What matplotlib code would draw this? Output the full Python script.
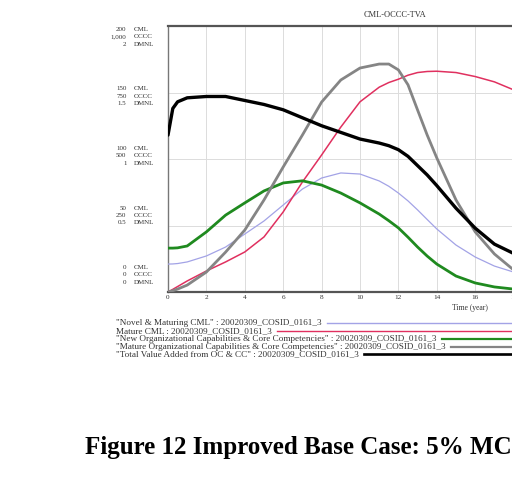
import numpy as np
import matplotlib
matplotlib.use("Agg")
import matplotlib.pyplot as plt

# simulation run 20020309_COSID_0161_3, yearly output (extra points near the peaks)
time = [0, 0.25, 0.5, 1, 2, 3, 4, 5, 6, 7, 8, 9, 10, 11, 11.5, 12, 12.5,
        13, 13.5, 14, 15, 16, 17, 18, 19, 20]

novel_cml = [21, 21.1, 21.4, 22.6, 27.1, 33.8, 43.6, 53.4, 65.4, 77.4, 85.7,
             89.5, 88.7, 83.5, 79.5, 74.4, 68.5, 61.7, 54.5, 47.4, 35.3, 26.3,
             19.5, 15, 11.3, 9]
mature_cml = [0, 2, 4.1, 8.3, 15.8, 22.6, 30.1, 41.4, 60.2, 82.7, 103, 124,
              143, 154, 157.5, 160, 163, 165, 165.8, 166, 165, 162, 158, 152,
              147, 141]
new_occc = [165, 165, 166, 173, 226, 289, 335, 380, 410, 418, 402, 372, 335,
            293, 268, 241, 206, 169, 135, 105, 60, 34, 19, 11, 8, 4]
mature_occc = [0, 5, 11, 26, 75, 150, 233, 346, 470, 590, 714, 797, 842, 857,
               857, 835, 779, 684, 590, 504, 346, 226, 143, 83, 53, 34]
tva = [1.18, 1.38, 1.43, 1.46, 1.47, 1.47, 1.44, 1.41, 1.37, 1.31, 1.25,
       1.20, 1.15, 1.12, 1.10, 1.07, 1.02, 0.95, 0.88, 0.80, 0.63, 0.48, 0.36,
       0.29, 0.23, 0.18]

# three stacked scales on the left axis
cml_ticks = ["0", "50", "100", "150", "200"]
occc_ticks = ["0", "250", "500", "750", "1,000"]
dmnl_ticks = ["0", "0.5", "1", "1.5", "2"]
scale_max = {"CML": 200, "OCCC": 1000, "DMNL": 2}
x_ticks = [0, 2, 4, 6, 8, 10, 12, 14, 16, 18, 20]

run = "20020309_COSID_0161_3"
legend_labels = [
    '"Novel & Maturing CML" : ' + run,
    'Mature CML : ' + run,
    '"New Organizational Capabilities & Core Competencies" : ' + run,
    '"Mature Organizational Capabilities & Core Competencies" : ' + run,
    '"Total Value Added from OC & CC" : ' + run,
]

series = [
    (novel_cml, "CML", "#a3a3e6", 0.9),
    (mature_cml, "CML", "#e0305f", 1.1),
    (new_occc, "OCCC", "#1f8a1f", 2.0),
    (mature_occc, "OCCC", "#858585", 2.0),
    (tva, "DMNL", "#000000", 2.4),
]

serif = "Liberation Serif"

fig = plt.figure(figsize=(5.12, 5.04), dpi=100)
ax = fig.add_axes([168 / 512, 1 - 292 / 504, 384 / 512, 266 / 504])

for values, unit, color, lw in series:
    ax.plot(time, np.array(values) / scale_max[unit], color=color, lw=lw,
            solid_capstyle="round", zorder=3)

ax.set_xlim(0, 20)
ax.set_ylim(0, 1)
ax.set_xticks(x_ticks)
ax.set_xticklabels([str(t) for t in x_ticks], fontsize=5.2, family=serif,
                   color="#333333")
ax.set_yticks([0, 0.25, 0.5, 0.75, 1])
ax.set_yticklabels([])
ax.tick_params(axis="both", length=0, pad=2)
ax.grid(True, color="#dcdcdc", lw=0.7, zorder=0)
for side in ["top", "bottom"]:
    ax.spines[side].set_color("#555555")
    ax.spines[side].set_linewidth(1.6)
ax.spines["left"].set_color("#777777")
ax.spines["left"].set_linewidth(1.0)
ax.spines["right"].set_visible(False)

# grouped value labels left of the axis
for i in range(5):
    yc = 0.064 + 0.895 * i / 4
    for j, (num, unit) in enumerate([(cml_ticks[i], "CML"),
                                     (occc_ticks[i], "OCCC"),
                                     (dmnl_ticks[i], "DMNL")]):
        yy = yc + (1 - j) * 0.028
        ax.text(-0.108, yy, num, transform=ax.transAxes, ha="right",
                va="center", fontsize=5, family=serif, color="#333333")
        ax.text(-0.088, yy, unit, transform=ax.transAxes, ha="left",
                va="center", fontsize=5, family=serif, color="#333333")

ax.text((395 - 168) / 384, 1 + 11 / 266, "CML-OCCC-TVA", transform=ax.transAxes,
        ha="center", va="center", fontsize=6, family=serif, color="#333333")
fig.text(470 / 512, 1 - 308 / 504, "Time (year)", ha="center", va="center",
         fontsize=5.5, family=serif, color="#333333")

# legend: label text followed by a line sample running to the right
fig.canvas.draw()
renderer = fig.canvas.get_renderer()
legend_y = [323, 331, 339, 347, 354]
for label, (values, unit, color, lw), ypix in zip(legend_labels, series, legend_y):
    yf = 1 - ypix / 504
    txt = fig.text(116 / 512, yf, label, ha="left", va="center", fontsize=6.6,
                   family=serif, color="#333333")
    bb = txt.get_window_extent(renderer).transformed(fig.transFigure.inverted())
    fig.add_artist(plt.Line2D([bb.x1 + 0.01, 1.05], [yf, yf], color=color,
                              lw=max(lw * 0.8, 1.0), transform=fig.transFigure))

fig.text(85 / 512, 1 - 454 / 504, "Figure 12 Improved Base Case: 5% MCML",
         ha="left", va="baseline", fontsize=18, fontweight="bold",
         family=serif, color="black")

fig.savefig("out.png", dpi=100)
